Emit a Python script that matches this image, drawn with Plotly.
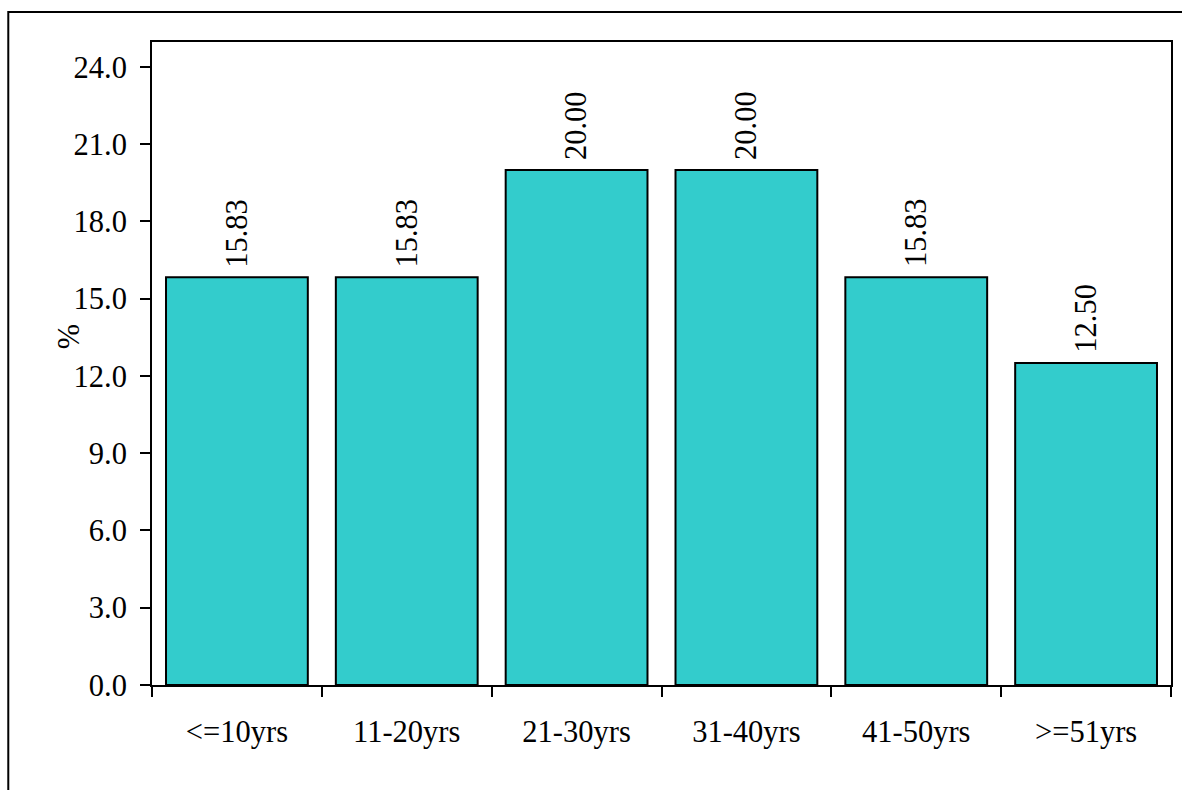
import plotly.graph_objects as go

# Age groups and the share (%) in each
categories = ["<=10yrs", "11-20yrs", "21-30yrs", "31-40yrs", "41-50yrs", ">=51yrs"]
values = [15.83, 15.83, 20.00, 20.00, 15.83, 12.50]
y_ticks = [0, 3, 6, 9, 12, 15, 18, 21, 24]
y_tick_text = [f"{v:.1f}" for v in y_ticks]

FONT = "Liberation Serif"
SIZE = 30.5

fig = go.Figure(
    go.Bar(
        x=categories,
        y=values,
        marker=dict(color="#33CCCC", line=dict(color="black", width=2)),
        showlegend=False,
    )
)

# Value labels standing upright above each bar
for cat, val in zip(categories, values):
    fig.add_annotation(
        x=cat, y=val, xref="x", yref="y",
        text=f"{val:.2f}",
        showarrow=False,
        textangle=-90,
        yanchor="bottom",
        yshift=8,
        font=dict(family=FONT, size=SIZE, color="black"),
    )

fig.update_layout(
    width=1182,
    height=790,
    margin=dict(l=152, r=9, t=42, b=105),
    paper_bgcolor="white",
    plot_bgcolor="white",
    bargap=0.165,
    showlegend=False,
    font=dict(family=FONT, size=SIZE, color="black"),
)

fig.update_xaxes(
    type="category",
    showline=True,
    linecolor="black",
    linewidth=2,
    mirror=True,
    ticks="outside",
    tickson="boundaries",
    ticklen=10,
    tickwidth=2,
    tickcolor="black",
    showgrid=False,
    ticklabelstandoff=18,
    tickfont=dict(family=FONT, size=SIZE, color="black"),
)

fig.update_yaxes(
    range=[0, 24.97],
    tickvals=y_ticks,
    ticktext=y_tick_text,
    showline=True,
    linecolor="black",
    linewidth=2,
    mirror=True,
    ticks="outside",
    ticklen=10,
    tickwidth=2,
    tickcolor="black",
    showgrid=False,
    zeroline=False,
    ticklabelstandoff=7,
    tickfont=dict(family=FONT, size=SIZE, color="black"),
)

# Axis title
fig.add_annotation(
    text="%",
    xref="paper", yref="paper",
    x=(50 - 152) / 1021, y=(685 - 337) / 643,
    showarrow=False,
    textangle=-90,
    font=dict(family=FONT, size=SIZE, color="black"),
)

# Outer chart frame
fig.add_shape(
    type="rect",
    xref="paper", yref="paper",
    x0=(8 - 152) / 1021, x1=(1200 - 152) / 1021,
    y0=(685 - 820) / 643, y1=(685 - 12) / 643,
    line=dict(color="black", width=2),
    fillcolor="rgba(0,0,0,0)",
    layer="below",
)

fig.write_html("out.html")
